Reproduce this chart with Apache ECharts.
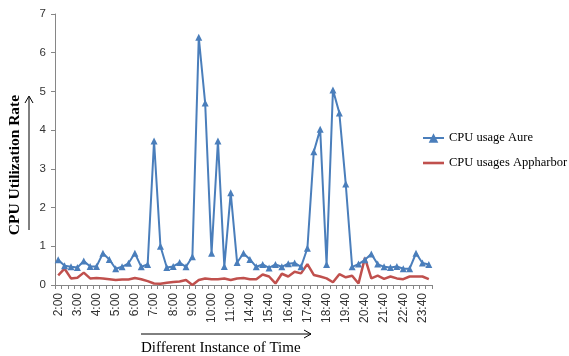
<!DOCTYPE html>
<html>
<head>
<meta charset="utf-8">
<script src="https://cdn.jsdelivr.net/npm/echarts@6/dist/echarts.min.js"></script>
<style>html,body{margin:0;padding:0;background:#fff;}#c{width:569px;height:356px;}</style>
</head>
<body>
<div id="c"></div>
<script>
const categories = ["2:00","2:20","2:40","3:00","3:20","3:40","4:00","4:20","4:40","5:00","5:20","5:40","6:00","6:20","6:40","7:00","7:20","7:40","8:00","8:20","8:40","9:00","9:20","9:40","10:00","10:20","10:40","11:00","11:20","11:40","14:40","15:00","15:20","15:40","16:00","16:20","16:40","17:00","17:20","17:40","18:00","18:20","18:40","19:00","19:20","19:40","20:00","20:20","20:40","21:00","21:20","21:40","22:00","22:20","22:40","23:00","23:20","23:40","0:00"];
const aure = [0.65,0.5,0.47,0.45,0.62,0.48,0.48,0.82,0.66,0.42,
              0.47,0.56,0.82,0.47,0.53,3.72,1.0,0.45,0.48,0.58,
              0.47,0.73,6.4,4.7,0.82,3.72,0.48,2.38,0.58,0.82,
              0.66,0.47,0.53,0.44,0.53,0.47,0.55,0.57,0.47,0.95,
              3.44,4.02,0.53,5.04,4.44,2.61,0.47,0.54,0.65,0.8,
              0.54,0.47,0.45,0.48,0.42,0.42,0.82,0.57,0.53];
const appharbor = [0.25,0.42,0.17,0.19,0.32,0.17,0.18,0.17,0.15,0.13,
                   0.14,0.14,0.18,0.15,0.1,0.04,0.03,0.06,0.08,0.09,
                   0.13,0.0,0.13,0.17,0.15,0.15,0.17,0.13,0.17,0.18,
                   0.15,0.15,0.27,0.22,0.04,0.29,0.22,0.34,0.3,0.54,
                   0.26,0.22,0.17,0.07,0.28,0.2,0.24,0.04,0.7,0.17,
                   0.24,0.16,0.22,0.17,0.15,0.22,0.22,0.22,0.15];
const yTicks = [0,1,2,3,4,5,6,7];
const seriesNames = ["CPU usage Aure","CPU usages Appharbor"];
const yTitle = "CPU Utilization Rate";
const xTitle = "Different Instance of Time";

const chart = echarts.init(document.getElementById('c'), null, {renderer:'canvas'});
const serif = '"Liberation Serif","DejaVu Serif",serif';
const sans = '"Liberation Sans","DejaVu Sans",sans-serif';
chart.setOption({
  animation:false,
  backgroundColor:'#fff',
  grid:{left:55,right:137,top:14,bottom:71,containLabel:false},
  legend:{
    orient:'vertical', left:422, top:130, padding:0, itemWidth:21, itemHeight:12, itemGap:9,
    symbolKeepAspect:true,
    textStyle:{fontFamily:serif,fontSize:12.5,color:'#000',lineHeight:16},
    data:[
      {name:seriesNames[0]},
      {name:seriesNames[1], icon:'path://M0,0 L21,0 L21,2.6 L0,2.6 Z'}
    ]
  },
  xAxis:{
    type:'category', data:categories, boundaryGap:true,
    axisLine:{lineStyle:{color:'#868686',width:1}},
    axisTick:{show:true,interval:0,length:4,lineStyle:{color:'#868686'}},
    axisLabel:{interval:2,rotate:90,margin:8,fontFamily:sans,fontSize:12,color:'#333'},
    splitLine:{show:false}
  },
  yAxis:{
    type:'value', min:yTicks[0], max:yTicks[yTicks.length-1], interval:1,
    axisLine:{show:true,lineStyle:{color:'#868686',width:1}},
    axisTick:{show:true,length:4,lineStyle:{color:'#868686'}},
    axisLabel:{margin:9,fontFamily:sans,fontSize:11.5,color:'#333'},
    splitLine:{show:false}
  },
  series:[
    {name:seriesNames[0],type:'line',data:aure,symbol:'triangle',symbolSize:7,showSymbol:true,showAllSymbol:true,
     lineStyle:{color:'#4A7EBB',width:2},itemStyle:{color:'#4A7EBB'},z:3},
    {name:seriesNames[1],type:'line',data:appharbor,symbol:'none',
     lineStyle:{color:'#C0504D',width:2.5},itemStyle:{color:'#C0504D'},z:2}
  ],
  graphic:[
    {type:'text',x:15,y:165,rotation:Math.PI/2,
     style:{text:yTitle,font:'bold 15.5px '+serif,fill:'#000',textAlign:'center',textVerticalAlign:'middle'}},
    {type:'line',shape:{x1:29,y1:230,x2:29,y2:97},style:{stroke:'#000',lineWidth:1}},
    {type:'polyline',shape:{points:[[25,103],[29,96],[33,103]]},style:{stroke:'#000',lineWidth:1,fill:null}},
    {type:'line',shape:{x1:141,y1:334,x2:311,y2:334},style:{stroke:'#000',lineWidth:1}},
    {type:'polyline',shape:{points:[[304,330],[311,334],[304,338]]},style:{stroke:'#000',lineWidth:1,fill:null}},
    {type:'text',x:141,y:348,style:{text:xTitle,font:'15px '+serif,fill:'#000',textVerticalAlign:'middle'}}
  ]
});
</script>
</body>
</html>
